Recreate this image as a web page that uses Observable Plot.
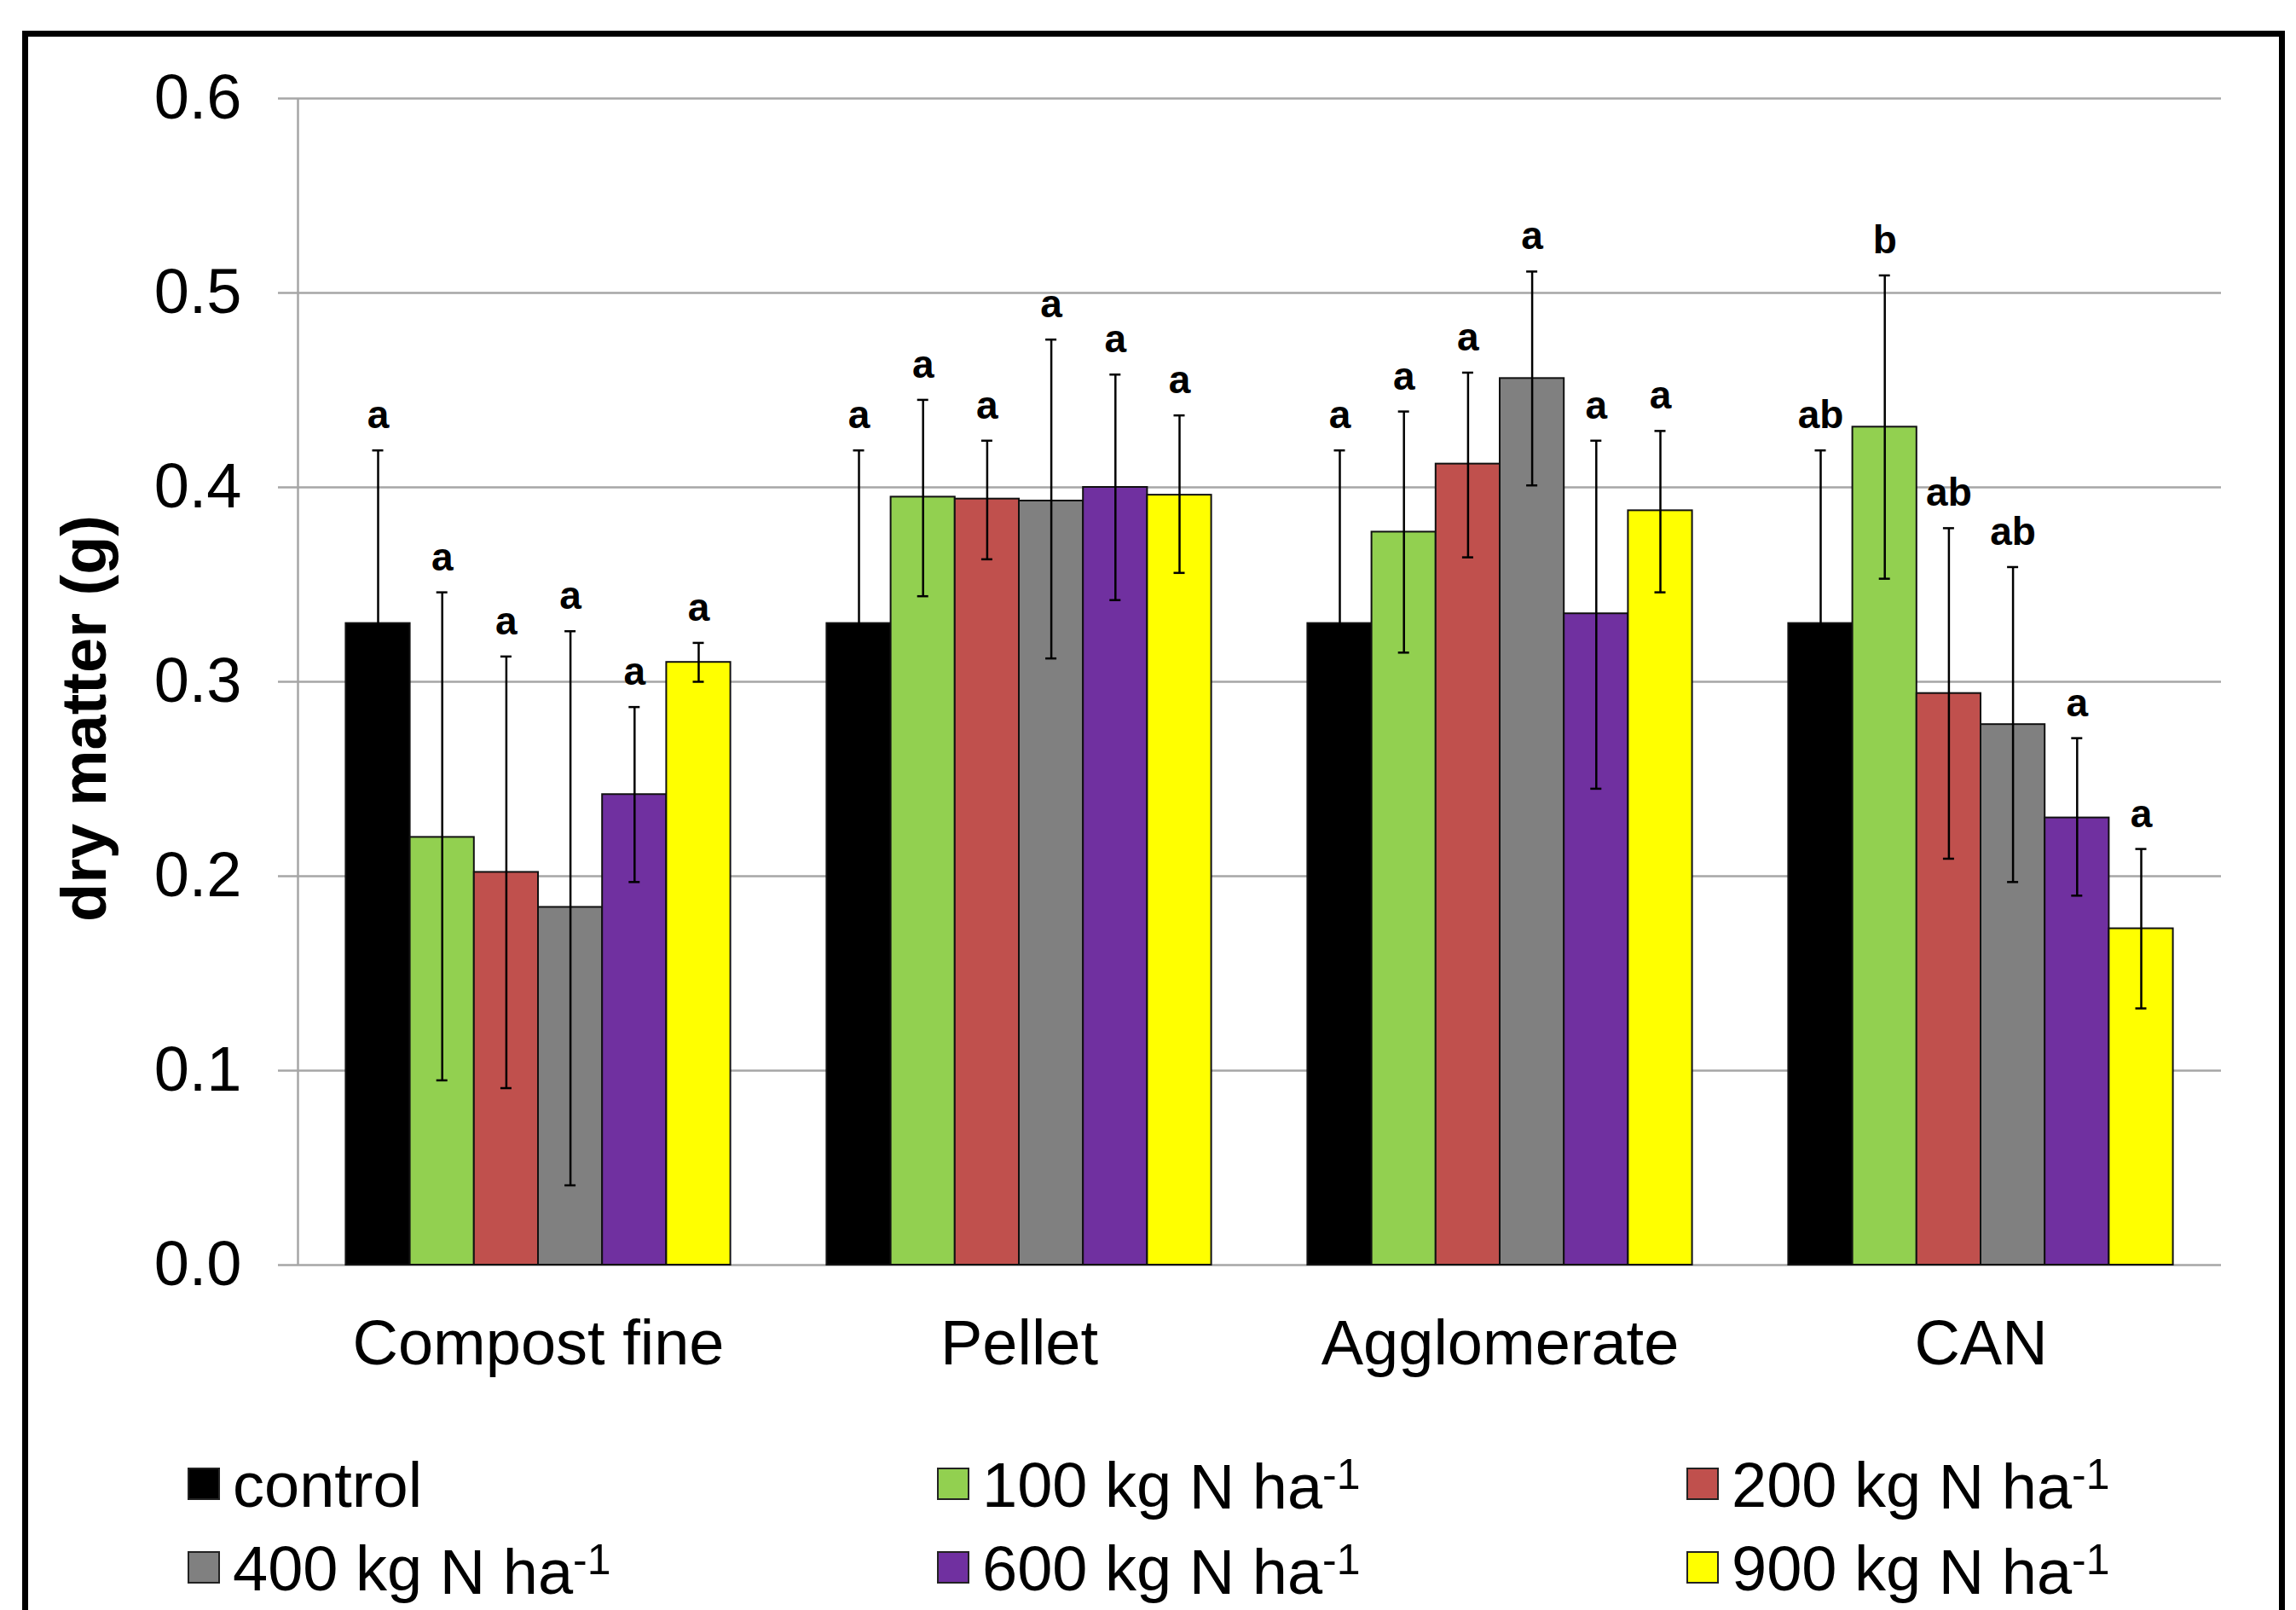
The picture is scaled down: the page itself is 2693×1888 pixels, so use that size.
<!DOCTYPE html>
<html>
<head>
<meta charset="utf-8">
<script src="https://cdn.jsdelivr.net/npm/d3@7"></script>
<script src="https://cdn.jsdelivr.net/npm/@observablehq/plot@0.6"></script>
<style>
  html, body { margin: 0; padding: 0; background: #fff; }
  #page { position: relative; width: 2693px; height: 1888px; overflow: hidden; background: #fff;
          font-family: "Liberation Sans", Arial, sans-serif; }
  #frame { position: absolute; left: 26px; top: 36px; width: 2640px; height: 1900px; border: 7px solid #000; box-sizing: content-box; }
  #chart { position: absolute; left: 0; top: 0; }
  #chart svg { overflow: visible; }
</style>
</head>
<body>
<div id="page">
  <div id="frame"></div>
  <div id="chart"></div>
  <div id="legend"></div>
</div>
<script>
// ---- data ----
const groups = ["Compost fine", "Pellet", "Agglomerate", "CAN"];
const series = ["control", "100", "200", "400", "600", "900"];
const colors = ["#000000", "#92D050", "#C0504D", "#808080", "#7030A0", "#FFFF00"];
const yTicks = [0, 0.1, 0.2, 0.3, 0.4, 0.5, 0.6];

const meanCompost     = [0.330, 0.220, 0.202, 0.184, 0.242, 0.310];
const meanPellet      = [0.330, 0.395, 0.394, 0.393, 0.400, 0.396];
const meanAgglomerate = [0.330, 0.377, 0.412, 0.456, 0.335, 0.388];
const meanCAN         = [0.330, 0.431, 0.294, 0.278, 0.230, 0.173];

const highCompost     = [0.419, 0.346, 0.313, 0.326, 0.287, 0.320];
const highPellet      = [0.419, 0.445, 0.424, 0.476, 0.458, 0.437];
const highAgglomerate = [0.419, 0.439, 0.459, 0.511, 0.424, 0.429];
const highCAN         = [0.419, 0.509, 0.379, 0.359, 0.271, 0.214];

const lowCompost      = [0.241, 0.095, 0.091, 0.041, 0.197, 0.300];
const lowPellet       = [0.241, 0.344, 0.363, 0.312, 0.342, 0.356];
const lowAgglomerate  = [0.241, 0.315, 0.364, 0.401, 0.245, 0.346];
const lowCAN          = [0.241, 0.353, 0.209, 0.197, 0.190, 0.132];

const lettersCompost     = ["a", "a", "a", "a", "a", "a"];
const lettersPellet      = ["a", "a", "a", "a", "a", "a"];
const lettersAgglomerate = ["a", "a", "a", "a", "a", "a"];
const lettersCAN         = ["ab", "b", "ab", "ab", "a", "a"];

// ---- table ----
const means = [meanCompost, meanPellet, meanAgglomerate, meanCAN];
const highs = [highCompost, highPellet, highAgglomerate, highCAN];
const lows = [lowCompost, lowPellet, lowAgglomerate, lowCAN];
const letters = [lettersCompost, lettersPellet, lettersAgglomerate, lettersCAN];

const rows = [];
groups.forEach((g, gi) => series.forEach((s, si) => rows.push({
  group: g, gi, series: s, si,
  mean: means[gi][si], hi: highs[gi][si], lo: lows[gi][si], letter: letters[gi][si]
})));

const groupPad = 0.1;
const barW = (1 - 2 * groupPad) / series.length;
const bx1 = d => d.gi + groupPad + d.si * barW;
const bx2 = d => bx1(d) + barW;
const bxc = d => bx1(d) + barW / 2;

const FONT = "'Liberation Sans', Arial, sans-serif";
const GRID = "#a6a6a6";

const chart = Plot.plot({
  width: 2693,
  height: 1633,
  marginLeft: 349,
  marginRight: 88,
  marginTop: 115,
  marginBottom: 150,
  style: { fontFamily: FONT, fontSize: "74px", background: "transparent", color: "#000" },
  x: { domain: [0, groups.length], axis: null },
  y: { domain: [0, 0.6], axis: null },
  color: { domain: series, range: colors },
  marks: [
    Plot.gridY(yTicks, { stroke: GRID, strokeOpacity: 1, strokeWidth: 2.5 }),
    Plot.axisY(yTicks, { tickSize: 23, tickPadding: 43, stroke: GRID, strokeWidth: 2.5, fill: "#000",
      tickFormat: d => d.toFixed(1), fontSize: 74, label: null }),
    Plot.ruleX([0], { y1: 0, y2: 0.6, stroke: GRID, strokeWidth: 2.5 }),
    Plot.axisX(groups.map((g, i) => i + 0.5), { tickSize: 0, tickPadding: 64, fill: "#000",
      tickFormat: d => groups[Math.floor(d)], fontSize: 74, label: null }),
    Plot.rectY(rows, { x1: bx1, x2: bx2, y1: 0, y2: "mean", fill: "series", stroke: "#111", strokeWidth: 2 }),
    Plot.ruleX(rows, { x: bxc, y1: "lo", y2: "hi", stroke: "#000", strokeWidth: 2.5 }),
    Plot.ruleY(rows, { x1: bxc, x2: bxc, y: "hi", insetLeft: -6.5, insetRight: -6.5, stroke: "#000", strokeWidth: 2.5 }),
    Plot.ruleY(rows, { x1: bxc, x2: bxc, y: "lo", insetLeft: -6.5, insetRight: -6.5, stroke: "#000", strokeWidth: 2.5 }),
    Plot.text(rows, { x: bxc, y: "hi", text: "letter", dy: -26, lineAnchor: "bottom",
      fontWeight: "bold", fontSize: 46, fill: "#000" }),
    Plot.text(["dry matter (g)"], { frameAnchor: "left", rotate: -90, dx: -226, dy: 43,
      lineAnchor: "bottom", textAnchor: "middle", fontWeight: "bold", fontSize: 74, fill: "#000" })
  ]
});
document.getElementById("chart").appendChild(chart);

// ---- legend (HTML, below the plot) ----
const legend = document.getElementById("legend");
series.forEach((s, i) => {
  const col = i % 3, row = Math.floor(i / 3);
  const item = document.createElement("div");
  item.style.cssText = `position:absolute;left:${220 + col * 879}px;top:${1692 + row * 98}px;` +
    `height:99px;line-height:99px;font-size:74px;white-space:nowrap;color:#000;`;
  const sw = document.createElement("span");
  sw.style.cssText = `display:inline-block;width:34px;height:34px;background:${colors[i]};` +
    `border:2px solid #222;vertical-align:middle;position:relative;top:-7px;margin-right:15px;`;
  item.appendChild(sw);
  if (s === "control") {
    item.appendChild(document.createTextNode("control"));
  } else {
    item.appendChild(document.createTextNode(`${s} kg `));
    const unit = document.createElement("span");
    unit.style.cssText = `position:relative;top:${row === 0 ? 2 : 4}px;`;
    unit.appendChild(document.createTextNode("N ha"));
    const sup = document.createElement("span");
    sup.style.cssText = "font-size:50px;vertical-align:23px;line-height:1;";
    sup.textContent = "-1";
    unit.appendChild(sup);
    item.appendChild(unit);
  }
  legend.appendChild(item);
});
</script>
</body>
</html>
